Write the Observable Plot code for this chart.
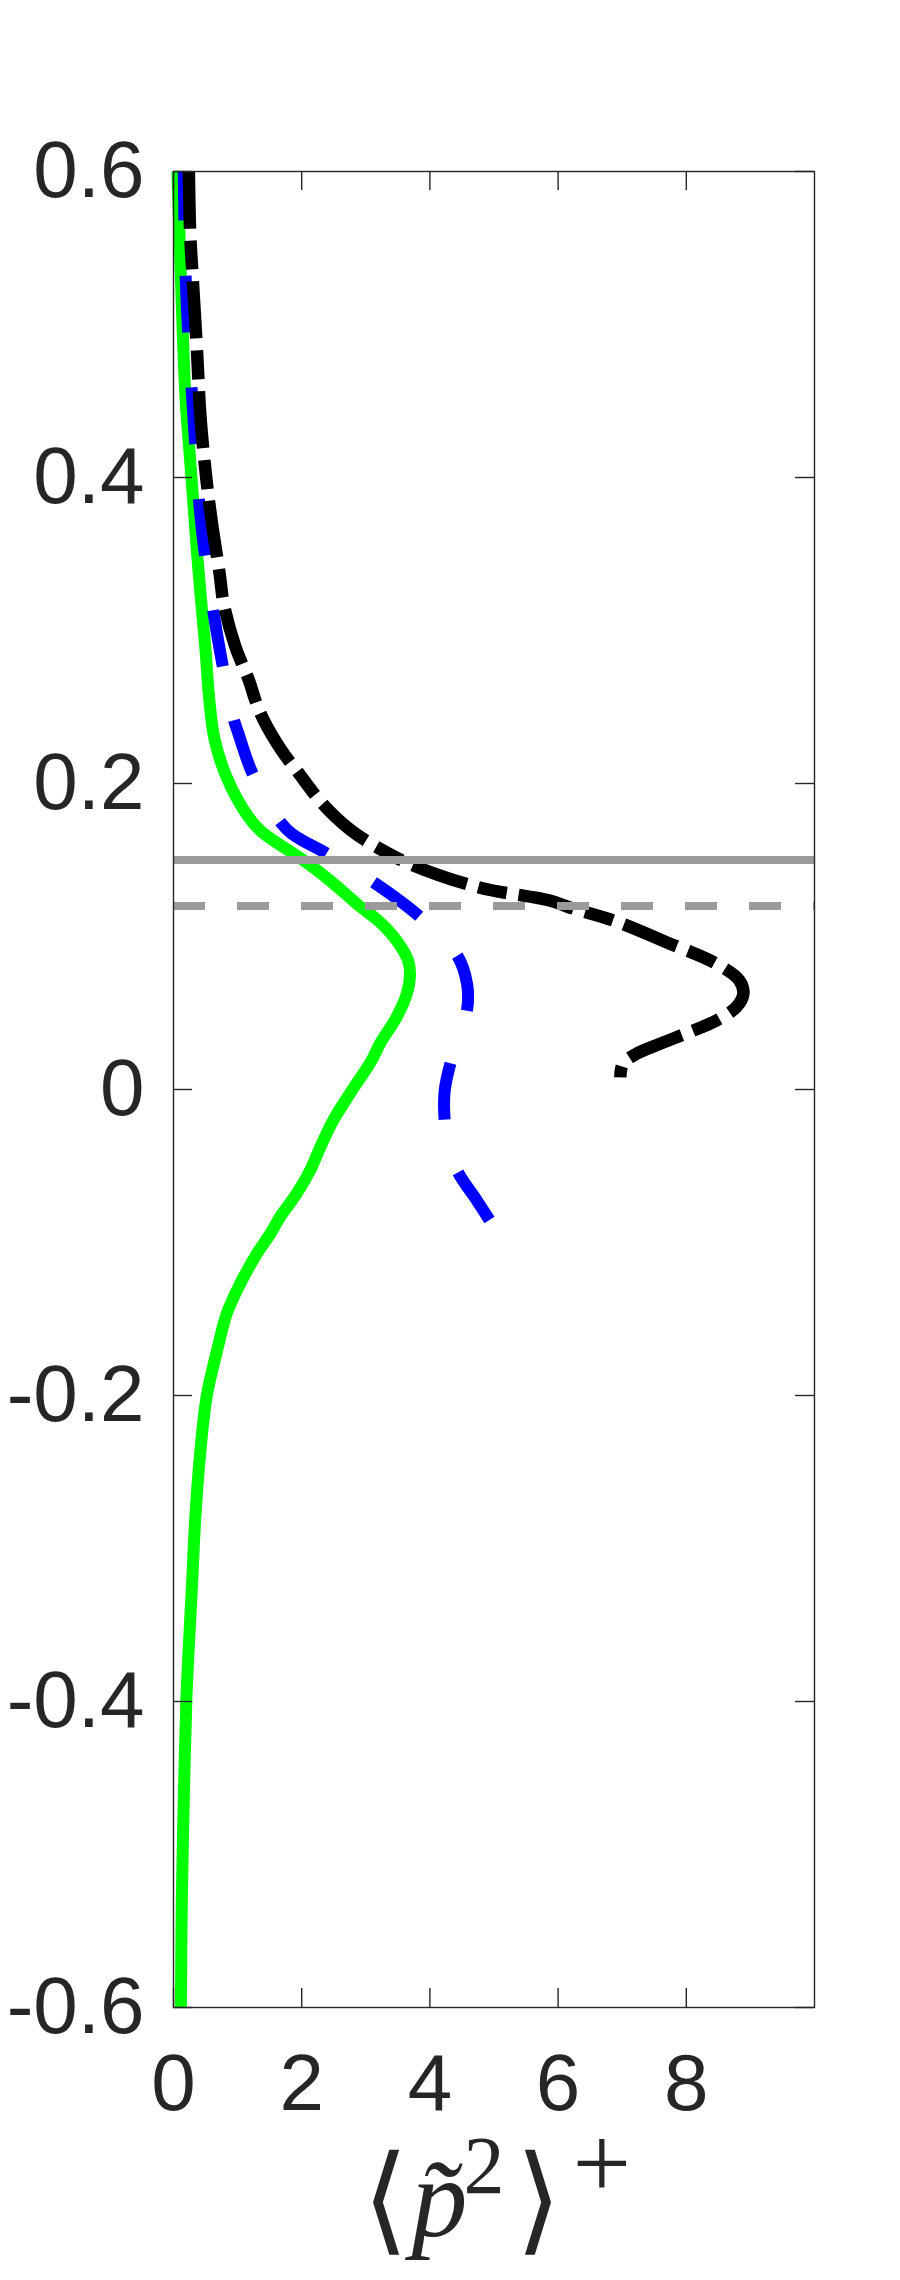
<!DOCTYPE html>
<html>
<head>
<meta charset="utf-8">
<script src="https://cdn.jsdelivr.net/npm/d3@7"></script>
<script src="https://cdn.jsdelivr.net/npm/@observablehq/plot@0.6"></script>
<style>
  html, body { margin: 0; padding: 0; background: #fff; }
  #chart svg { display: block; }
</style>
</head>
<body>
<div id="chart"></div>
<script>
// ---- tick values and labels ----
const xTicks = [0, 2, 4, 6, 8];
const xTickLabels = ["0", "2", "4", "6", "8"];
const yTicks = [-0.6, -0.4, -0.2, 0, 0.2, 0.4, 0.6];
const yTickLabels = ["-0.6", "-0.4", "-0.2", "0", "0.2", "0.4", "0.6"];

// ---- reference lines ----
const solidRefY = [0.15];
const dashedRefY = [0.12];

// ---- green solid curve ----
const greenY = [0.6, 0.55, 0.5, 0.45, 0.418, 0.385, 0.352, 0.32, 0.287, 0.254, 0.229, 0.204, 0.179, 0.169, 0.1497, 0.1366, 0.1214, 0.1094, 0.0974, 0.0843, 0.0756, 0.0626, 0.0473, 0.0299, 0.019, -0.0028, -0.0203, -0.0377, -0.053, -0.0682, -0.0835, -0.0943, -0.1074, -0.127, -0.1466, -0.1706, -0.2, -0.236, -0.28, -0.323, -0.367, -0.4, -0.465, -0.53, -0.6];
const greenX = [0.06, 0.10, 0.14, 0.19, 0.247, 0.307, 0.365, 0.43, 0.50, 0.56, 0.64, 0.83, 1.155, 1.36, 2.03, 2.44, 2.86, 3.22, 3.48, 3.66, 3.69, 3.64, 3.48, 3.22, 3.09, 2.75, 2.49, 2.29, 2.13, 1.92, 1.66, 1.51, 1.30, 1.04, 0.83, 0.68, 0.52, 0.42, 0.34, 0.29, 0.235, 0.2, 0.16, 0.13, 0.115];

// ---- blue dashed curve ----
const blueY = [0.6, 0.53, 0.44, 0.367, 0.295, 0.242, 0.233, 0.205, 0.17, 0.155, 0.1355, 0.1137, 0.088, 0.069, 0.052, 0.035, 0.017, -0.001, -0.020, -0.040, -0.055, -0.073, -0.086];
const blueX = [0.16, 0.19, 0.31, 0.44, 0.69, 0.94, 1.01, 1.25, 1.77, 2.36, 3.12, 3.82, 4.42, 4.58, 4.58, 4.46, 4.32, 4.23, 4.23, 4.30, 4.45, 4.74, 4.94];

// ---- black dash-dot curve ----
const blackY = [0.6, 0.56, 0.53, 0.48, 0.44, 0.40, 0.37, 0.337, 0.318, 0.29, 0.267, 0.254, 0.242, 0.222, 0.208, 0.187, 0.17, 0.158, 0.147, 0.132, 0.1235, 0.119, 0.1105, 0.0963, 0.0822, 0.0712, 0.0625, 0.0538, 0.0451, 0.0375, 0.0299, 0.0233, 0.0168, 0.008];
const blackX = [0.24, 0.26, 0.30, 0.37, 0.42, 0.51, 0.60, 0.72, 0.78, 0.96, 1.18, 1.28, 1.40, 1.68, 1.93, 2.32, 2.75, 3.19, 3.71, 4.77, 5.87, 6.18, 6.86, 7.69, 8.47, 8.83, 8.89, 8.78, 8.47, 8.05, 7.59, 7.22, 7.01, 6.97];

// ---- x-axis label pieces: ⟨ p̃ 2 ⟩ + ----
const labelTexts = ["\u27E8", "p\u0303", "2", "\u27E9", "+"];

// ---- build tables ----
const toRows = (xs, ys) => xs.map((x, i) => ({x, y: ys[i]}));
const green = toRows(greenX, greenY);
const blue = toRows(blueX, blueY);
const black = toRows(blackX, blackY);

const W = 900, H = 2280;
const mL = 173, mR = 86, mT = 171, mB = 273;
const frameW = W - mL - mR, frameH = H - mT - mB;
const tickLen = 19;
const axisColor = "#262626";
const sansFont = "'Liberation Sans', Arial, Helvetica, sans-serif";
const serifFont = "'Liberation Serif', 'DejaVu Serif', serif";
const bracketFont = "'DejaVu Serif', serif";
const cx = mL + frameW / 2;   // frame centre x
const by = H - mB;            // frame bottom y

const xFmt = d => xTickLabels[xTicks.indexOf(d)];
const yFmt = d => yTickLabels[yTicks.findIndex(t => Math.abs(t - d) < 1e-9)];

// one label piece, positioned (baseline) relative to the frame's bottom centre
const piece = (i, x, baseline, opts) => Plot.text([labelTexts[i]], {
  frameAnchor: "bottom", lineAnchor: "bottom", textAnchor: "start",
  dx: x - cx, dy: baseline - by,
  fill: axisColor, fontFamily: serifFont, ...opts
});

const chart = Plot.plot({
  width: W, height: H,
  marginLeft: mL, marginRight: mR, marginTop: mT, marginBottom: mB,
  x: {domain: [0, 10], axis: null},
  y: {domain: [-0.6, 0.6], axis: null},
  style: {background: "#fff", fontFamily: sansFont},
  marks: [
    // data curves
    Plot.line(green, {x: "x", y: "y", stroke: "#00ff00", strokeWidth: 12, strokeLinecap: "butt", strokeLinejoin: "round", curve: "catmull-rom"}),
    Plot.line(blue, {x: "x", y: "y", stroke: "#0000ff", strokeWidth: 12, strokeLinecap: "butt", strokeLinejoin: "round", strokeDasharray: "57,55", strokeDashoffset: 8, curve: "catmull-rom"}),
    Plot.line(black, {x: "x", y: "y", stroke: "#000000", strokeWidth: 12.5, strokeLinecap: "butt", strokeLinejoin: "round", strokeDasharray: "57,12,29,12", curve: "catmull-rom"}),
    // grey horizontal reference lines
    Plot.ruleY(solidRefY, {stroke: "#9a9a9a", strokeWidth: 8}),
    Plot.ruleY(dashedRefY, {stroke: "#9a9a9a", strokeWidth: 8, strokeDasharray: "32,32"}),
    // box
    Plot.frame({stroke: axisColor, strokeWidth: 1.4}),
    // inward ticks (bottom, top, left, right)
    Plot.tickX(xTicks, {x: d => d, insetTop: frameH - tickLen, stroke: axisColor, strokeWidth: 1.4}),
    Plot.tickX(xTicks, {x: d => d, insetBottom: frameH - tickLen, stroke: axisColor, strokeWidth: 1.4}),
    Plot.tickY(yTicks, {y: d => d, insetRight: frameW - tickLen, stroke: axisColor, strokeWidth: 1.4}),
    Plot.tickY(yTicks, {y: d => d, insetLeft: frameW - tickLen, stroke: axisColor, strokeWidth: 1.4}),
    // tick labels
    Plot.axisX(xTicks, {tickSize: 0, tickPadding: 46, tickFormat: xFmt, fontSize: 80, fontFamily: sansFont, color: axisColor, label: null}),
    Plot.axisY(yTicks, {tickSize: 0, tickPadding: 29, tickFormat: yFmt, fontSize: 80, fontFamily: sansFont, color: axisColor, label: null}),
    // x-axis label
    piece(0, 362, 2238, {fontSize: 118, fontFamily: bracketFont, stroke: "#fff", strokeWidth: 2}),
    piece(1, 411, 2235, {fontSize: 112, fontStyle: "italic"}),
    piece(2, 463, 2192, {fontSize: 82}),
    piece(3, 515, 2238, {fontSize: 118, fontFamily: bracketFont, stroke: "#fff", strokeWidth: 2}),
    piece(4, 572, 2197, {fontSize: 104})
  ]
});

document.getElementById("chart").appendChild(chart);
</script>
</body>
</html>
